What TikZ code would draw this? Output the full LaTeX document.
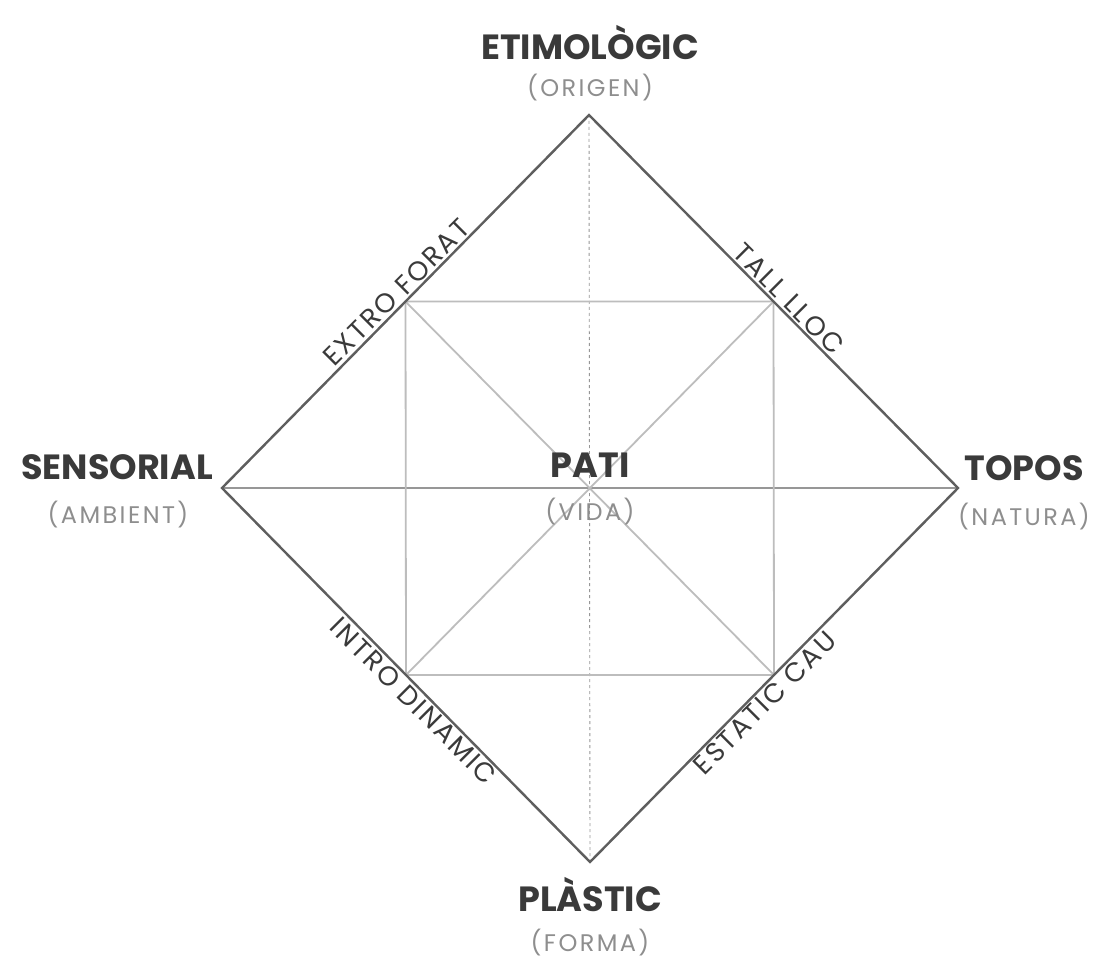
\documentclass[tikz,border=0pt]{standalone}
\usepackage{fontspec}
\setmainfont{Poppins}
\usetikzlibrary{calc}

\definecolor{inkgray}{HTML}{3A3A3A}
\definecolor{softgray}{HTML}{8E8E8E}
\definecolor{edgegray}{HTML}{5E5E5E}
\definecolor{gridgray}{HTML}{BDBDBD}

\begin{document}
\begin{tikzpicture}[x=1pt, y=-1pt,
    title/.style={font=\bfseries\fontsize{35}{37}\selectfont, text=inkgray, inner sep=0pt},
    subtitle/.style={font=\fontsize{24}{26}\selectfont\addfontfeature{LetterSpace=10}, text=softgray, inner sep=0pt},
    sidelabel/.style={font=\fontsize{27}{29}\selectfont\addfontfeature{LetterSpace=8}, text=inkgray, inner sep=3pt},
    outerline/.style={draw=edgegray, line width=2.4pt, line join=miter},
    innerline/.style={draw=gridgray, line width=1.8pt},
    axisline/.style={draw=gridgray!80!black, line width=1.2pt}]
    \fill[white] (0,0) rectangle (1102,965);
    \useasboundingbox (0,0) rectangle (1102,965);

    % Corners of the diamond
    \coordinate (top) at (589,115);
    \coordinate (left) at (222,488);
    \coordinate (right) at (958,488);
    \coordinate (bottom) at (590,862);

    % Inner square on the midpoints
    \coordinate (ul) at ($(top)!0.5!(left)$);
    \coordinate (ur) at ($(top)!0.5!(right)$);
    \coordinate (ll) at ($(bottom)!0.5!(left)$);
    \coordinate (lr) at ($(bottom)!0.5!(right)$);

    % Axes
    \draw[axisline] (left) -- (right);
    \draw[axisline, dashed, line width=0.9pt] (top) -- (bottom);

    % Inner square and its diagonals
    \draw[innerline] (ul) -- (ur) -- (lr) -- (ll) -- cycle;
    \draw[innerline] (ul) -- (lr);
    \draw[innerline] (ur) -- (ll);

    % Outer diamond
    \draw[outerline] (top) -- (right) -- (bottom) -- (left) -- cycle;

    % Corner labels
    \node[title] (etim) at (590,43) {ETIMOLÒGIC};
    \node[subtitle] (origen) at (590,88) {(ORIGEN)};

    \node[title] (sens) at (117,467) {SENSORIAL};
    \node[subtitle] (ambient) at (118,515) {(AMBIENT)};

    \node[title] (topos) at (1024,468) {TOPOS};
    \node[subtitle] (natura) at (1024,517) {(NATURA)};

    \node[title] (plastic) at (590,895) {PLÀSTIC};
    \node[subtitle] (forma) at (590,943) {(FORMA)};

    % Centre
    \node[title] (pati) at (590,465) {PATI};
    \node[subtitle] (vida) at (590,512) {(VIDA)};

    % Labels along the sides
    \node[sidelabel, rotate=45, anchor=south] (extro) at ($(left)!0.5!(top)$) {EXTRO FORAT};
    \node[sidelabel, rotate=-45, anchor=south] (tall) at ($(top)!0.517!(right)$) {TALL LLOC};
    \node[sidelabel, rotate=-45, anchor=north] (intro) at ($(left)!0.545!(bottom)$) {INTRO DINAMIC};
    \node[sidelabel, rotate=45, anchor=north] (estatic) at ($(bottom)!0.45!(right)$) {ESTATIC CAU};
\end{tikzpicture}
\end{document}
